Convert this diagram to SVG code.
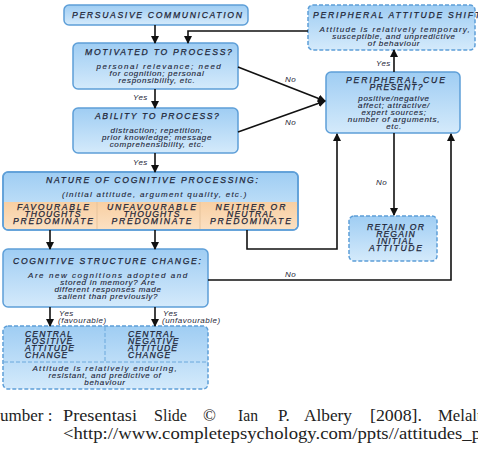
<svg xmlns="http://www.w3.org/2000/svg" width="478" height="450" viewBox="0 0 478 450">
<defs>
<linearGradient id="blue" x1="0" y1="0" x2="0" y2="1">
<stop offset="0" stop-color="#9fcdf3"/>
<stop offset="1" stop-color="#d4eafb"/>
</linearGradient>
<linearGradient id="orange" x1="0" y1="0" x2="0" y2="1">
<stop offset="0" stop-color="#f8cfa2"/>
<stop offset="1" stop-color="#fbe0c2"/>
</linearGradient>
<marker id="ah" markerUnits="userSpaceOnUse" markerWidth="8" markerHeight="8" refX="7" refY="4" orient="auto">
<path d="M0,0 L8,4 L0,8 z" fill="#111"/>
</marker>
<style>
.box{fill:url(#blue);stroke:#5e9fd8;stroke-width:1.5}
.dash{fill:url(#blue);stroke:#5e9fd8;stroke-width:1.5;stroke-dasharray:4 2}
.div{fill:none;stroke:#6aa8dc;stroke-width:1;stroke-dasharray:4 2}
.t{font-family:"Liberation Sans",Arial,sans-serif;font-style:italic;font-size:8.6px;fill:#1e2638;stroke:#1e2638;stroke-width:0.25;text-anchor:middle;letter-spacing:1.1px}
.b{font-family:"Liberation Sans",Arial,sans-serif;font-style:italic;font-size:8px;fill:#1e2638;stroke:#1e2638;stroke-width:0.12;text-anchor:middle;letter-spacing:0.7px}
.l{font-family:"Liberation Sans",Arial,sans-serif;font-style:italic;font-size:8px;fill:#1e2638;letter-spacing:0.5px}
.c{stroke:#111;stroke-width:1.6;fill:none}
.a{marker-end:url(#ah)}
.cap{font-family:"Liberation Serif","Times New Roman",serif;font-size:17px;fill:#222}
</style>
</defs>

<g id="persuasive">
<rect class="box" x="64" y="5" width="184" height="20" rx="5"/>
<text class="t" x="157.5" y="18" textLength="171" lengthAdjust="spacing">PERSUASIVE COMMUNICATION</text>
</g>

<g id="motivated">
<rect class="box" x="73" y="43" width="165" height="46" rx="5"/>
<text class="t" x="159" y="55" textLength="148" lengthAdjust="spacing">MOTIVATED TO PROCESS?</text>
<text class="b" x="159" y="69" textLength="125" lengthAdjust="spacing">personal relevance; need</text>
<text class="b" x="157" y="76">for cognition; personal</text>
<text class="b" x="157" y="83">responsibility, etc.</text>
</g>

<g id="ability">
<rect class="box" x="73" y="108" width="165" height="45" rx="5"/>
<text class="t" x="157.5" y="119" textLength="125" lengthAdjust="spacing">ABILITY TO PROCESS?</text>
<text class="b" x="157" y="133">distraction; repetition;</text>
<text class="b" x="157" y="140">prior knowledge; message</text>
<text class="b" x="157" y="147">comprehensibility, etc.</text>
</g>

<g id="nature">
<rect class="box" x="3" y="172" width="295" height="58" rx="5"/>
<path d="M4,202 H297 V225 a4,4 0 0 1 -4,4 H8 a4,4 0 0 1 -4,-4 z" fill="url(#orange)"/>
<line x1="97" y1="202" x2="97" y2="229" stroke="#e6c39c" stroke-width="1"/>
<line x1="200" y1="202" x2="200" y2="229" stroke="#e6c39c" stroke-width="1"/>
<rect x="3" y="172" width="295" height="58" rx="5" fill="none" stroke="#5e9fd8" stroke-width="1.5"/>
<text class="t" x="152.5" y="183" textLength="213" lengthAdjust="spacing">NATURE OF COGNITIVE PROCESSING:</text>
<text class="b" x="154.5" y="197" textLength="185" lengthAdjust="spacing">(initial attitude, argument quality, etc.)</text>
<text class="t" x="53.5" y="210" textLength="73" lengthAdjust="spacing">FAVOURABLE</text>
<text class="t" x="53" y="217">THOUGHTS</text>
<text class="t" x="53.5" y="224" textLength="81" lengthAdjust="spacing">PREDOMINATE</text>
<text class="t" x="152" y="210" textLength="90" lengthAdjust="spacing">UNFAVOURABLE</text>
<text class="t" x="152" y="217">THOUGHTS</text>
<text class="t" x="152" y="224" textLength="81" lengthAdjust="spacing">PREDOMINATE</text>
<text class="t" x="251" y="210" textLength="71" lengthAdjust="spacing">NEITHER OR</text>
<text class="t" x="251" y="217">NEUTRAL</text>
<text class="t" x="251" y="224" textLength="82" lengthAdjust="spacing">PREDOMINATE</text>
</g>

<g id="cognitive">
<rect class="box" x="3" y="249" width="205" height="58" rx="5"/>
<text class="t" x="107.5" y="264" textLength="189" lengthAdjust="spacing">COGNITIVE STRUCTURE CHANGE:</text>
<text class="b" x="108" y="278" textLength="160" lengthAdjust="spacing">Are new cognitions adopted and</text>
<text class="b" x="108" y="285">stored in memory? Are</text>
<text class="b" x="108" y="292">different responses made</text>
<text class="b" x="108" y="299">salient than previously?</text>
</g>

<g id="central">
<rect class="dash" x="3" y="326" width="205" height="63" rx="5"/>
<line class="div" x1="105" y1="327" x2="105" y2="362"/>
<line class="div" x1="4" y1="362" x2="207" y2="362"/>
<text class="t" x="25" y="337" style="text-anchor:start">CENTRAL</text>
<text class="t" x="25" y="344" style="text-anchor:start">POSITIVE</text>
<text class="t" x="25" y="351" style="text-anchor:start">ATTITUDE</text>
<text class="t" x="25" y="358" style="text-anchor:start">CHANGE</text>
<text class="t" x="128" y="337" style="text-anchor:start">CENTRAL</text>
<text class="t" x="128" y="344" style="text-anchor:start">NEGATIVE</text>
<text class="t" x="128" y="351" style="text-anchor:start">ATTITUDE</text>
<text class="t" x="128" y="358" style="text-anchor:start">CHANGE</text>
<text class="b" x="105" y="371" textLength="145" lengthAdjust="spacing">Attitude is relatively enduring,</text>
<text class="b" x="105" y="378">resistant, and predictive of</text>
<text class="b" x="105" y="385">behaviour</text>
</g>

<g id="peripheral-shift">
<rect class="dash" x="308" y="5" width="167" height="45" rx="5"/>
<text class="t" x="313" y="18" style="text-anchor:start" textLength="168" lengthAdjust="spacing">PERIPHERAL ATTITUDE SHIFT</text>
<text class="b" x="395" y="32" textLength="151" lengthAdjust="spacing">Attitude is relatively temporary,</text>
<text class="b" x="394" y="39">susceptible, and unpredictive</text>
<text class="b" x="394" y="46">of behaviour</text>
</g>

<g id="peripheral-cue">
<rect class="box" x="326" y="72" width="134" height="61" rx="5"/>
<text class="t" x="396" y="83" textLength="100" lengthAdjust="spacing">PERIPHERAL CUE</text>
<text class="t" x="396.5" y="90">PRESENT?</text>
<text class="b" x="394" y="101">positive/negative</text>
<text class="b" x="394" y="108">affect; attractive/</text>
<text class="b" x="394" y="115">expert sources;</text>
<text class="b" x="394" y="122">number of arguments,</text>
<text class="b" x="394" y="129">etc.</text>
</g>

<g id="retain">
<rect class="dash" x="349" y="216" width="88" height="45" rx="5"/>
<text class="t" x="396" y="230" textLength="58" lengthAdjust="spacing">RETAIN OR</text>
<text class="t" x="396" y="237">REGAIN</text>
<text class="t" x="396" y="244">INITIAL</text>
<text class="t" x="396" y="251" textLength="54" lengthAdjust="spacing">ATTITUDE</text>
</g>

<g id="connectors">
<path class="c a" d="M155,25 V43"/>
<path class="c a" d="M308,31 H188 V43"/>
<path class="c a" d="M155,89 V108"/>
<path class="c a" d="M155,153 V172"/>
<path class="c a" d="M238,67 L325,101"/>
<path class="c a" d="M238,132 L325,101"/>
<path class="c a" d="M394,72 V50"/>
<path class="c a" d="M394,133 V215"/>
<path class="c a" d="M50,230 V249"/>
<path class="c a" d="M155,230 V249"/>
<path class="c a" d="M247,230 V249 H337 V134"/>
<path class="c a" d="M208,280 H451 V134"/>
<path class="c a" d="M50,307 V326"/>
<path class="c a" d="M155,307 V326"/>
<text class="l" x="133" y="100">Yes</text>
<text class="l" x="133" y="165">Yes</text>
<text class="l" x="285" y="82">No</text>
<text class="l" x="285" y="125">No</text>
<text class="l" x="376" y="66">Yes</text>
<text class="l" x="376" y="185">No</text>
<text class="l" x="285" y="277">No</text>
<text class="l" x="59" y="316">Yes</text>
<text class="l" x="58" y="323">(favourable)</text>
<text class="l" x="163" y="316">Yes</text>
<text class="l" x="162" y="323">(unfavourable)</text>
</g>

<g id="caption">
<text class="cap" x="0" y="421">umber :</text>
<text class="cap" x="63" y="421" textLength="74" lengthAdjust="spacingAndGlyphs">Presentasi</text>
<text class="cap" x="154" y="421" textLength="33" lengthAdjust="spacingAndGlyphs">Slide</text>
<text class="cap" x="203" y="421">©</text>
<text class="cap" x="238" y="421" textLength="20" lengthAdjust="spacingAndGlyphs">Ian</text>
<text class="cap" x="278" y="421">P.</text>
<text class="cap" x="304" y="421" textLength="48" lengthAdjust="spacingAndGlyphs">Albery</text>
<text class="cap" x="370" y="421" textLength="52" lengthAdjust="spacingAndGlyphs">[2008].</text>
<text class="cap" x="438" y="421" textLength="52" lengthAdjust="spacingAndGlyphs">Melalui</text>
<text class="cap" x="63" y="439" textLength="418" lengthAdjust="spacingAndGlyphs">&lt;http://www.completepsychology.com/ppts//attitudes_p</text>
</g>
</svg>
